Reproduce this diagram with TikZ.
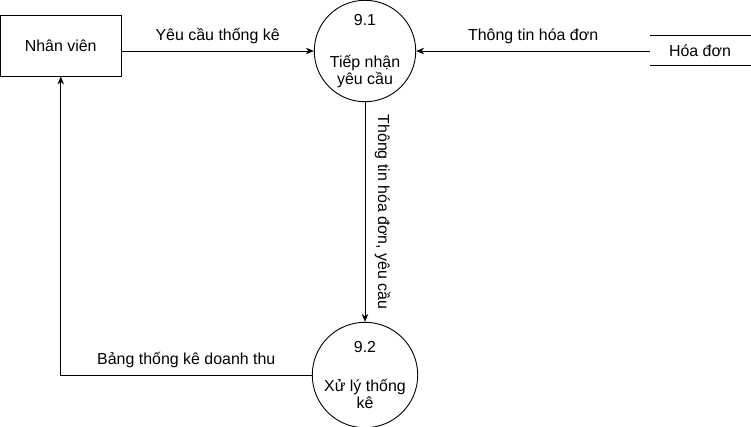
\documentclass[tikz,border=0pt]{standalone}
\usepackage{fontspec}
\setmainfont{Liberation Sans}
\usetikzlibrary{arrows.meta}

\begin{document}
\begin{tikzpicture}[x=1bp, y=-1bp, line width=0.9bp, >={Stealth[length=8bp,width=6.5bp]},
  font=\fontsize{16}{17}\selectfont,
  proc/.style={draw, circle, minimum size=99bp, inner sep=0pt, align=center}]
  \useasboundingbox (0,0) rectangle (751,426);

  \node[draw, minimum width=120.5bp, minimum height=61bp, inner sep=0pt] (nv) at (60.75,45.5) {Nhân viên};
  \node[proc] (p1) at (365,51) {9.1\\[25bp]Tiếp nhận\\yêu cầu};
  \node[proc] (p2) at (365,375) {9.2\\[22bp]Xử lý thống\\kê};

  % kho du lieu
  \node (hd) at (700,51) {Hóa đơn};
  \draw (650,35) -- (751,35);
  \draw (650,65) -- (751,65);
  \coordinate (hdw) at (650,51);

  \draw[->] (nv.east |- p1.west) -- (p1.west) node[midway, above=3bp] {Yêu cầu thống kê};
  \draw[->] (hdw) -- (p1.east) node[midway, above=3bp] {Thông tin hóa đơn};
  \draw[->] (p1.south) -- (p2.north) node[midway, sloped, above=6bp] {Thông tin hóa đơn, yêu cầu};
  \draw[->] (p2.west) -| (nv.south) node[pos=0.25, above=3bp] {Bảng thống kê doanh thu};
\end{tikzpicture}
\end{document}
